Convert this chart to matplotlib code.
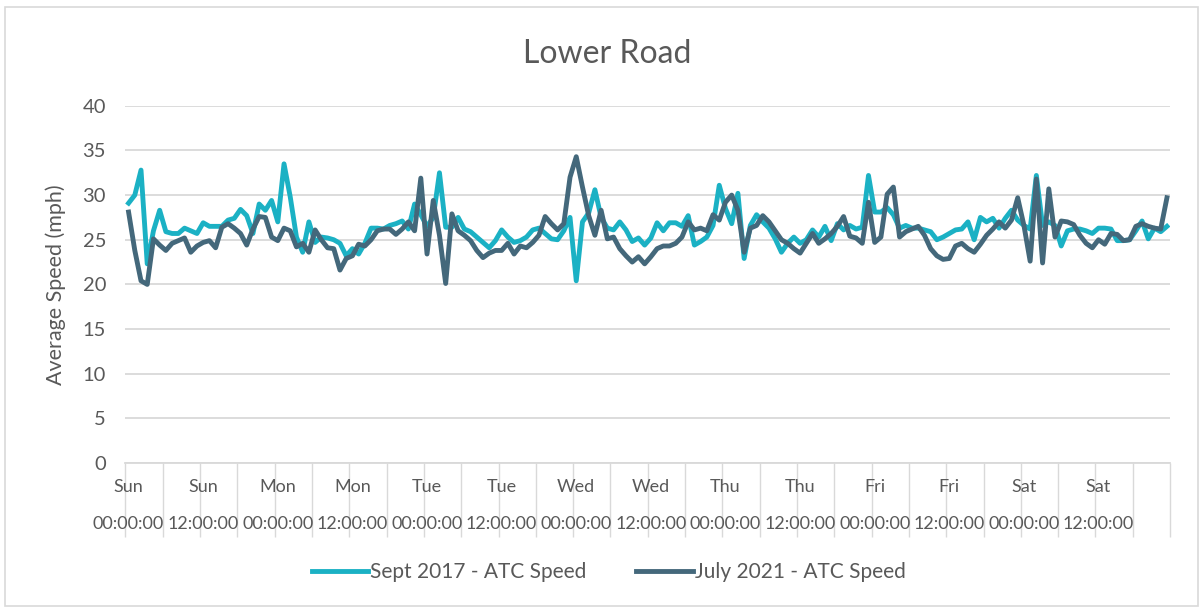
import numpy as np
import matplotlib
matplotlib.use('Agg')
import matplotlib.pyplot as plt
from matplotlib.patches import Rectangle

# hourly average speeds (mph), one week starting Sunday 00:00
sept_2017 = [29.1, 30.0, 32.8, 22.3, 26.0, 28.3, 25.9, 25.7, 25.7, 26.3, 26.0, 25.7,
             26.9, 26.5, 26.5, 26.5, 27.2, 27.4, 28.4, 27.7, 25.7, 29.0, 28.3, 29.4,
             27.0, 33.5, 29.8, 25.3, 23.6, 27.0, 24.7, 25.3, 25.2, 25.0, 24.6, 23.2,
             24.0, 23.4, 24.6, 26.3, 26.3, 26.2, 26.6, 26.8, 27.1, 26.2, 29.0, 27.8,
             26.5, 27.5, 32.5, 26.4, 26.4, 27.5, 26.2, 25.9, 25.3, 24.7, 24.1, 24.9,
             26.1, 25.3, 24.7, 24.9, 25.3, 26.1, 26.3, 25.7, 25.1, 25.0, 26.0, 27.5,
             20.4, 27.0, 28.0, 30.6, 27.5, 26.3, 26.1, 27.0, 26.1, 24.8, 25.2, 24.4,
             25.2, 26.9, 26.0, 26.9, 26.9, 26.5, 27.7, 24.4, 24.8, 25.3, 26.6, 31.1,
             28.5, 26.8, 30.2, 22.9, 26.6, 27.8, 27.0, 26.3, 25.1, 23.6, 24.6, 25.3,
             24.6, 25.0, 26.1, 25.3, 26.5, 24.9, 26.8, 26.1, 26.6, 26.2, 26.4, 32.2,
             28.1, 28.1, 28.6, 27.8, 26.3, 26.6, 26.3, 26.3, 26.1, 25.9, 25.0, 25.3,
             25.7, 26.1, 26.2, 27.0, 25.0, 27.5, 27.0, 27.4, 26.3, 27.4, 28.3, 27.2,
             26.6, 26.2, 32.2, 26.6, 27.0, 26.6, 24.3, 26.0, 26.2, 26.2, 26.0, 25.7,
             26.3, 26.3, 26.2, 24.9, 24.9, 25.0, 26.0, 27.1, 25.1, 26.3, 25.9, 26.5]

july_2021 = [28.1, 23.8, 20.4, 20.0, 25.1, 24.4, 23.8, 24.6, 24.9, 25.2, 23.6, 24.3,
             24.7, 24.9, 24.1, 26.4, 26.8, 26.3, 25.7, 24.4, 26.2, 27.6, 27.5, 25.3,
             24.9, 26.3, 26.0, 24.2, 24.6, 23.6, 26.1, 25.0, 24.1, 24.0, 21.6, 22.9,
             23.2, 24.5, 24.3, 25.0, 26.0, 26.2, 26.2, 25.6, 26.2, 27.0, 26.0, 31.9,
             23.4, 29.4, 25.5, 20.1, 27.9, 26.0, 25.5, 24.9, 23.8, 23.0, 23.5, 23.8,
             23.8, 24.6, 23.4, 24.3, 24.1, 24.7, 25.5, 27.6, 26.8, 26.1, 26.8, 32.0,
             34.3, 30.9, 27.7, 25.5, 28.3, 25.1, 25.3, 24.0, 23.2, 22.5, 23.1, 22.3,
             23.1, 24.0, 24.3, 24.3, 24.6, 25.3, 27.0, 26.1, 26.3, 26.0, 27.8, 27.2,
             29.2, 30.0, 28.3, 23.6, 26.3, 26.6, 27.7, 27.0, 26.0, 25.0, 24.6, 24.0,
             23.5, 24.6, 25.7, 24.6, 25.1, 25.7, 26.5, 27.6, 25.4, 25.2, 24.6, 29.2,
             24.7, 25.3, 30.1, 30.9, 25.3, 25.9, 26.2, 26.5, 25.5, 24.0, 23.2, 22.8,
             22.9, 24.3, 24.6, 24.0, 23.6, 24.5, 25.5, 26.2, 27.0, 26.3, 27.2, 29.7,
             26.6, 22.6, 31.8, 22.4, 30.7, 25.3, 27.1, 27.0, 26.7, 25.5, 24.6, 24.1,
             25.0, 24.5, 25.7, 25.6, 24.9, 25.0, 26.5, 26.8, 26.5, 26.3, 26.2, 29.7]

# category labels, one every 12 hours
days = ['Sun', 'Sun', 'Mon', 'Mon', 'Tue', 'Tue', 'Wed', 'Wed',
        'Thu', 'Thu', 'Fri', 'Fri', 'Sat', 'Sat']
times = ['00:00:00', '12:00:00'] * 7

cyan = '#1BB1C4'
dark = '#44687B'
grey_txt = '#595959'
grid_col = '#D9D9D9'

plt.rcParams['font.family'] = ['Lato', 'DejaVu Sans']

fig = plt.figure(figsize = (12.03, 6.08), dpi = 100)
ax = fig.add_axes([0.1043, 0.2385, 0.8683, 0.5875])

n = len(sept_2017)
x = np.arange(n) + 0.5

ax.plot(x, sept_2017, color = cyan, lw = 3.5, solid_joinstyle = 'round', label = 'Sept 2017 - ATC Speed', zorder = 3)
ax.plot(x, july_2021, color = dark, lw = 3.5, solid_joinstyle = 'round', label = 'July 2021 - ATC Speed', zorder = 4)

ax.set_xlim(0, n)
ax.set_ylim(0, 40)

# y axis
ax.set_yticks(np.arange(0, 41, 5))
ax.tick_params(axis = 'y', length = 0, pad = 14, labelsize = 14.5, labelcolor = grey_txt)
ax.grid(axis = 'y', color = grid_col, lw = 1.3)
ax.set_axisbelow(True)
ax.set_ylabel('Average Speed (mph)', fontsize = 15.5, color = grey_txt, labelpad = 12)

# x axis: long divider ticks every 6 hours, labels every 12 hours
ax.set_xticks(np.arange(0, n + 1, 6))
ax.set_xticklabels([])
ax.tick_params(axis = 'x', length = 53, width = 1.0, color = grid_col, direction = 'out')

xt = ax.get_xaxis_transform()
for k in range(len(days)):
    pos = k * 12 + 0.5
    ax.text(pos, -0.068, days[k], transform = xt, ha = 'center', va = 'center',
            fontsize = 13, color = grey_txt)
    ax.text(pos, -0.17, times[k], transform = xt, ha = 'center', va = 'center',
            fontsize = 13, color = grey_txt)

for s in ['left', 'right', 'top']:
    ax.spines[s].set_visible(False)
ax.spines['bottom'].set_color(grid_col)
ax.spines['bottom'].set_linewidth(1.3)

fig.text(0.505, 0.912, 'Lower Road', ha = 'center', va = 'center', fontsize = 23, color = grey_txt)

fig.legend(loc = 'center', bbox_to_anchor = (0.506, 0.059), ncol = 2, frameon = False,
           fontsize = 15.0, handlelength = 2.7, handletextpad = 0.1, columnspacing = 2.4,
           labelcolor = grey_txt)

# chart border
fig.patches.append(Rectangle((0.004, 0.004), 0.992, 0.984, transform = fig.transFigure,
                             fill = False, edgecolor = grid_col, lw = 1.2))

plt.savefig('out.png', dpi = 100)
